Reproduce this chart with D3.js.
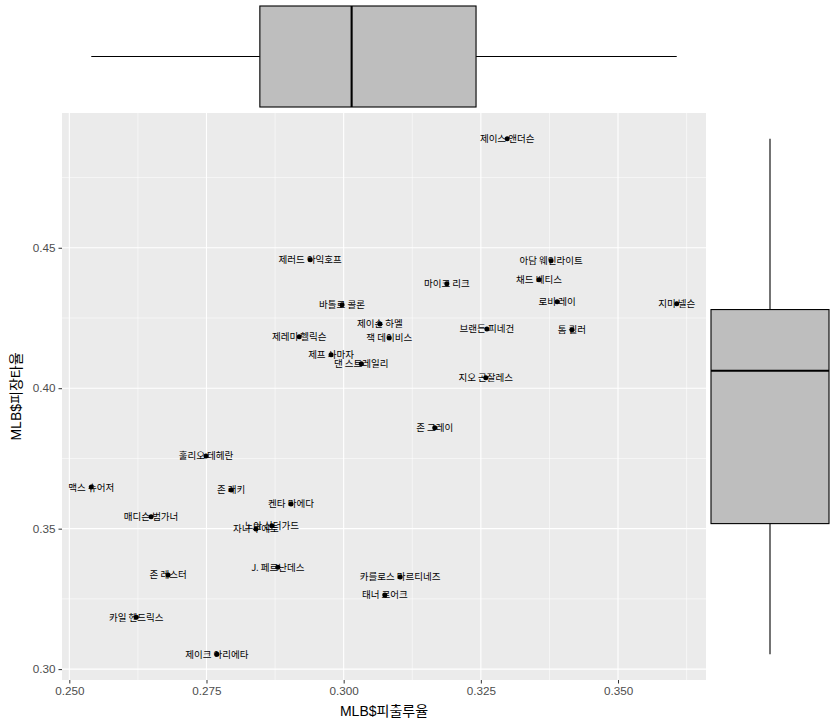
<!DOCTYPE html>
<html><head><meta charset="utf-8">
<script src="https://cdn.jsdelivr.net/npm/d3@7"></script>
<style>body{margin:0;background:#fff}svg{display:block}</style>
</head><body>
<script>
const players = ["제이스 앤더슨","제러드 아익호프","아담 웨인라이트","채드 베티스","마이크 리크","로비 레이","지미 넬슨","바톨로 콜론","제이슨 하멜","브랜든 피네건","톰 쾰러","제레미 헬릭슨","잭 데이비스","제프 사마자","댄 스트레일리","지오 곤잘레스","존 그레이","훌리오 테헤란","맥스 슈어저","존 래키","켄타 마에다","매디슨 범가너","자니 쿠에토","노아 신더가드","J. 페르난데스","존 레스터","카를로스 마르티네즈","태너 로어크","카일 헨드릭스","제이크 아리에타"];
const obp = [0.3298,0.2939,0.3378,0.3356,0.3188,0.3389,0.3607,0.2997,0.3066,0.3261,0.3416,0.2919,0.3083,0.2977,0.3032,0.3259,0.3166,0.2749,0.2540,0.2795,0.2904,0.2649,0.2840,0.2869,0.2880,0.2680,0.3103,0.3075,0.2622,0.2769];
const slg = [0.4888,0.4457,0.4454,0.4386,0.4372,0.4308,0.4301,0.4297,0.4229,0.4211,0.4208,0.4183,0.4179,0.4119,0.4087,0.4037,0.3859,0.3759,0.3648,0.3638,0.3588,0.3542,0.3499,0.3510,0.3363,0.3335,0.3328,0.3264,0.3185,0.3053];
const xTicks = [0.250,0.275,0.300,0.325,0.350];
const yTicks = [0.30,0.35,0.40,0.45];
const xTitle = "MLB$피출루율";
const yTitle = "MLB$피장타율";

const W = 835, H = 727;
const P = {l:62, r:706, t:113, b:680};
const svg = d3.select("body").append("svg").attr("width",W).attr("height",H);

function expandDomain(arr){const e=d3.extent(arr);const d=(e[1]-e[0])*0.05;return [e[0]-d,e[1]+d];}
const x = d3.scaleLinear().domain(expandDomain(obp)).range([P.l,P.r]);
const y = d3.scaleLinear().domain(expandDomain(slg)).range([P.b,P.t]);

// panel
svg.append("rect").attr("x",P.l).attr("y",P.t).attr("width",P.r-P.l).attr("height",P.b-P.t).attr("fill","#EBEBEB");
const xMinor = xTicks.slice(0,-1).map((v,i)=>(v+xTicks[i+1])/2).concat([xTicks[0]-0.0125, xTicks[xTicks.length-1]+0.0125]).filter(v=>x(v)>P.l&&x(v)<P.r);
const yMinor = yTicks.slice(0,-1).map((v,i)=>(v+yTicks[i+1])/2).concat([yTicks[0]-0.025, yTicks[yTicks.length-1]+0.025]).filter(v=>y(v)>P.t&&y(v)<P.b);
const g = svg.append("g");
g.selectAll(".xm").data(xMinor).enter().append("line").attr("x1",d=>x(d)).attr("x2",d=>x(d)).attr("y1",P.t).attr("y2",P.b).attr("stroke","#fff").attr("stroke-width",0.55);
g.selectAll(".ym").data(yMinor).enter().append("line").attr("y1",d=>y(d)).attr("y2",d=>y(d)).attr("x1",P.l).attr("x2",P.r).attr("stroke","#fff").attr("stroke-width",0.55);
g.selectAll(".xM").data(xTicks).enter().append("line").attr("x1",d=>x(d)).attr("x2",d=>x(d)).attr("y1",P.t).attr("y2",P.b).attr("stroke","#fff").attr("stroke-width",1.1);
g.selectAll(".yM").data(yTicks).enter().append("line").attr("y1",d=>y(d)).attr("y2",d=>y(d)).attr("x1",P.l).attr("x2",P.r).attr("stroke","#fff").attr("stroke-width",1.1);

// axes
const xAxis = svg.append("g").attr("transform",`translate(0,${P.b})`)
  .call(d3.axisBottom(x).tickValues(xTicks).tickFormat(d3.format(".3f")).tickSize(3.5).tickPadding(3));
const yAxis = svg.append("g").attr("transform",`translate(${P.l},0)`)
  .call(d3.axisLeft(y).tickValues(yTicks).tickFormat(d3.format(".2f")).tickSize(3.5).tickPadding(3));
[xAxis,yAxis].forEach(a=>{
  a.select(".domain").remove();
  a.selectAll(".tick line").attr("stroke","#333").attr("stroke-width",1);
  a.selectAll(".tick text").attr("fill","#4D4D4D").style("font-family","Liberation Sans, Arial, sans-serif").style("font-size","11.7px");
});
svg.append("text").attr("x",(P.l+P.r)/2).attr("y",716).attr("text-anchor","middle")
  .style("font-family","Liberation Sans, 'Noto Sans CJK KR', sans-serif").style("font-size","14px").attr("fill","#000").text(xTitle);
svg.append("text").attr("transform",`translate(21,${(P.t+P.b)/2}) rotate(-90)`).attr("text-anchor","middle")
  .style("font-family","Liberation Sans, 'Noto Sans CJK KR', sans-serif").style("font-size","14px").attr("fill","#000").text(yTitle);

// labels & points
const pts = players.map((n,i)=>({n, x:obp[i], y:slg[i]}));
svg.append("g").selectAll("text").data(pts).enter().append("text")
  .attr("x",d=>x(d.x)).attr("y",d=>y(d.y)).attr("dy","0.36em").attr("text-anchor","middle")
  .style("font-family","'Noto Sans CJK KR', sans-serif").style("font-size","9.5px").attr("fill","#000").text(d=>d.n);
svg.append("g").selectAll("circle").data(pts).enter().append("circle")
  .attr("cx",d=>x(d.x)).attr("cy",d=>y(d.y)).attr("r",2.5).attr("fill","#000");

// boxplot stats
function stats(arr){const s=arr.slice().sort(d3.ascending);const q1=d3.quantile(s,0.25),md=d3.quantile(s,0.5),q3=d3.quantile(s,0.75);const iqr=q3-q1;
  const lo=d3.min(s.filter(v=>v>=q1-1.5*iqr)),hi=d3.max(s.filter(v=>v<=q3+1.5*iqr));return {q1,md,q3,lo,hi};}
const sx = stats(obp), sy = stats(slg);
// top marginal
const tb = {t:6, b:107};
const tm = (tb.t+tb.b)/2;
svg.append("line").attr("x1",x(sx.lo)).attr("x2",x(sx.q1)).attr("y1",tm).attr("y2",tm).attr("stroke","#000").attr("stroke-width",1.1);
svg.append("line").attr("x1",x(sx.q3)).attr("x2",x(sx.hi)).attr("y1",tm).attr("y2",tm).attr("stroke","#000").attr("stroke-width",1.1);
svg.append("rect").attr("x",x(sx.q1)).attr("y",tb.t).attr("width",x(sx.q3)-x(sx.q1)).attr("height",tb.b-tb.t).attr("fill","#BEBEBE").attr("stroke","#000").attr("stroke-width",1.1);
svg.append("line").attr("x1",x(sx.md)).attr("x2",x(sx.md)).attr("y1",tb.t).attr("y2",tb.b).attr("stroke","#000").attr("stroke-width",2.1);
// right marginal
const rb = {l:711, r:829};
const rm = (rb.l+rb.r)/2;
svg.append("line").attr("y1",y(sy.lo)).attr("y2",y(sy.q1)).attr("x1",rm).attr("x2",rm).attr("stroke","#000").attr("stroke-width",1.1);
svg.append("line").attr("y1",y(sy.q3)).attr("y2",y(sy.hi)).attr("x1",rm).attr("x2",rm).attr("stroke","#000").attr("stroke-width",1.1);
svg.append("rect").attr("x",rb.l).attr("y",y(sy.q3)).attr("width",rb.r-rb.l).attr("height",y(sy.q1)-y(sy.q3)).attr("fill","#BEBEBE").attr("stroke","#000").attr("stroke-width",1.1);
svg.append("line").attr("x1",rb.l).attr("x2",rb.r).attr("y1",y(sy.md)).attr("y2",y(sy.md)).attr("stroke","#000").attr("stroke-width",2.1);
</script>
</body></html>
